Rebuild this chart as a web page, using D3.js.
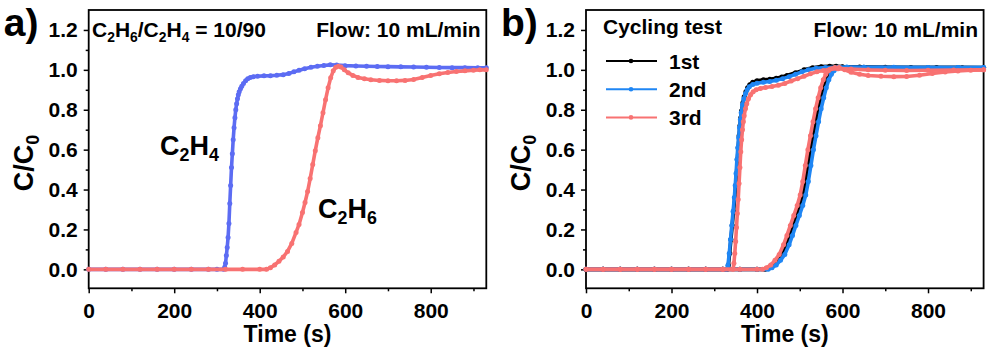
<!DOCTYPE html>
<html>
<head>
<meta charset="utf-8">
<script src="https://cdn.jsdelivr.net/npm/d3@7"></script>
<style>
  body { margin: 0; background: #fff; }
  text { font-family: "Liberation Sans", Arial, sans-serif; font-weight: bold; }
</style>
</head>
<body>
<div id="chart"></div>
<script>
// ---------------------------------------------------------------------------
// Data (time in s, C/C0)
// ---------------------------------------------------------------------------
const xTicks = [0, 200, 400, 600, 800]
const xMinor = [100, 300, 500, 700, 900]
const yTicks = [0, 0.2, 0.4, 0.6, 0.8, 1.0, 1.2]
const yMinor = [0.1, 0.3, 0.5, 0.7, 0.9, 1.1]

// panel a) breakthrough, C2H6/C2H4 = 10/90
const c2h4A = [[0,0],[40,0],[80,0],[120,0],[160,0],[200,0],[240,0],[280,0],[300,0],[316,0],
  [318,0.01],[320,0.03],[322,0.07],[324,0.11],[326,0.16],[328,0.23],[330,0.33],[332,0.42],[334,0.51],
  [336,0.58],[338,0.65],[340,0.71],[342,0.76],[344,0.80],[346,0.83],[348,0.855],[350,0.875],[352,0.89],
  [355,0.905],[358,0.918],[362,0.932],[367,0.945],[372,0.955],[378,0.962],[385,0.966],[395,0.968],
  [410,0.97],[425,0.971],[440,0.973],[455,0.976],[468,0.982],[480,0.99],[492,0.998],[505,1.006],
  [520,1.013],[535,1.018],[550,1.022],[565,1.025],[580,1.024],[600,1.021],[625,1.019],[650,1.018],
  [675,1.017],[700,1.016],[730,1.015],[760,1.014],[790,1.013],[820,1.012],[850,1.011],[880,1.011],
  [910,1.01],[930,1.01]]
const c2h6A = [[0,0],[40,0],[80,0],[120,0],[160,0],[200,0],[240,0],[280,0],[320,0],[360,0],[400,0],
  [416,0],[425,0.008],[435,0.022],[445,0.04],[455,0.062],[465,0.09],[475,0.13],[485,0.185],[492,0.225],
  [500,0.285],[506,0.335],[512,0.39],[518,0.455],[524,0.525],[530,0.595],[536,0.66],[542,0.72],
  [548,0.785],[554,0.85],[560,0.91],[566,0.96],[572,0.995],[578,1.013],[584,1.018],[590,1.014],
  [598,1.0],[607,0.985],[618,0.972],[630,0.962],[645,0.955],[660,0.95],[680,0.947],[700,0.945],
  [720,0.945],[740,0.947],[760,0.952],[780,0.962],[800,0.972],[820,0.98],[840,0.987],[860,0.992],
  [880,0.995],[900,0.998],[915,1.0],[930,1.0]]

// panel b) cycling test
const cyc1C2H4 = [[0,0],[40,0],[80,0],[120,0],[160,0],[200,0],[240,0],[280,0],[320,0],[330,0],
  [333,0.02],[336,0.08],[339,0.15],[342,0.22],[345,0.29],[348,0.36],[350,0.42],[352,0.48],[354,0.55],
  [356,0.61],[358,0.67],[360,0.72],[362,0.76],[364,0.795],[367,0.835],[370,0.865],[374,0.89],[378,0.91],
  [383,0.925],[390,0.938],[400,0.945],[415,0.95],[430,0.953],[445,0.958],[458,0.964],[470,0.972],
  [490,0.985],[510,1.0],[530,1.01],[550,1.016],[570,1.018],[585,1.018],[600,1.016],[640,1.014],
  [700,1.013],[760,1.012],[820,1.012],[880,1.011],[930,1.011]]
const cyc2C2H4 = [[0,0],[40,0],[80,0],[120,0],[160,0],[200,0],[240,0],[280,0],[320,0],[329,0],
  [332,0.02],[335,0.08],[338,0.15],[341,0.22],[344,0.29],[347,0.36],[349,0.42],[351,0.48],[353,0.55],
  [355,0.61],[357,0.66],[359,0.71],[361,0.75],[363,0.785],[366,0.825],[369,0.855],[373,0.88],[377,0.9],
  [382,0.915],[390,0.927],[400,0.933],[415,0.938],[430,0.942],[445,0.948],[460,0.956],[475,0.966],
  [490,0.978],[505,0.99],[520,1.0],[538,1.008],[560,1.012],[590,1.013],[650,1.012],[720,1.012],
  [800,1.012],[870,1.012],[930,1.012]]
const cyc3C2H4 = [[0,0],[40,0],[80,0],[120,0],[160,0],[200,0],[240,0],[280,0],[320,0],[344,0],
  [346,0.03],[348,0.08],[350,0.14],[352,0.21],[354,0.28],[356,0.35],[358,0.43],[360,0.51],[362,0.59],
  [364,0.65],[366,0.7],[368,0.74],[370,0.77],[373,0.805],[376,0.83],[380,0.855],[385,0.875],[391,0.89],
  [398,0.9],[408,0.907],[420,0.912],[435,0.917],[450,0.923],[465,0.932],[480,0.944],[495,0.956],
  [510,0.968],[525,0.98],[540,0.99],[555,0.997],[570,1.003],[590,1.006],[620,1.004],[660,1.0],
  [700,0.998],[750,0.997],[800,0.998],[860,0.999],[930,1.0]]
const cyc1C2H6 = [[0,0],[40,0],[80,0],[120,0],[160,0],[200,0],[240,0],[280,0],[320,0],[360,0],[400,0],
  [419,0],[428,0.008],[438,0.022],[448,0.045],[458,0.075],[468,0.123],[476,0.17],[484,0.22],[492,0.27],
  [500,0.32],[507,0.373],[513,0.44],[519,0.52],[525,0.6],[531,0.67],[537,0.74],[543,0.805],[549,0.86],
  [555,0.91],[561,0.95],[567,0.978],[573,0.995],[580,1.006],[588,1.012],[600,1.013],[650,1.013],
  [720,1.012],[800,1.011],[870,1.011],[930,1.01]]
const cyc2C2H6 = [[0,0],[40,0],[80,0],[120,0],[160,0],[200,0],[240,0],[280,0],[320,0],[360,0],[400,0],
  [426,0],[435,0.008],[445,0.022],[455,0.045],[465,0.075],[475,0.123],[483,0.17],[491,0.22],[499,0.27],
  [507,0.32],[514,0.373],[520,0.44],[526,0.52],[532,0.6],[538,0.67],[544,0.74],[550,0.805],[556,0.86],
  [562,0.91],[568,0.95],[574,0.978],[580,0.995],[587,1.006],[595,1.012],[610,1.014],[650,1.013],
  [720,1.013],[800,1.012],[870,1.012],[930,1.012]]
const cyc3C2H6 = [[0,0],[40,0],[80,0],[120,0],[160,0],[200,0],[240,0],[280,0],[320,0],[360,0],[400,0],
  [413,0],[422,0.008],[432,0.022],[442,0.045],[452,0.075],[462,0.123],[470,0.17],[478,0.22],[486,0.27],
  [494,0.32],[501,0.373],[507,0.44],[513,0.52],[519,0.6],[525,0.67],[531,0.74],[537,0.805],[543,0.86],
  [549,0.91],[555,0.95],[561,0.978],[567,0.995],[574,1.006],[582,1.012],[592,1.012],[605,1.0],
  [620,0.988],[640,0.978],[660,0.972],[690,0.968],[720,0.966],[750,0.967],[780,0.973],[810,0.982],
  [840,0.989],[870,0.994],[900,0.998],[930,1.0]]

const legendLabels = ["1st", "2nd", "3rd"]

// ---------------------------------------------------------------------------
// Helpers
// ---------------------------------------------------------------------------
const W = 996, H = 351
const svg = d3.select("#chart").append("svg").attr("width", W).attr("height", H)

// "C_2H_4" -> C, subscript 2, H, subscript 4
function chemText(sel, str, size) {
    sel.attr("font-size", size)
    let i = 0
    let shifted = false
    while (i < str.length) {
        if (str[i] === "_") {
            sel.append("tspan")
                .attr("font-size", size * 0.66)
                .attr("dy", shifted ? 0 : size * 0.22)
                .text(str[i + 1])
            shifted = true
            i += 2
        } else {
            let j = i
            while (j < str.length && str[j] !== "_") j++
            sel.append("tspan")
                .attr("font-size", size)
                .attr("dy", shifted ? -size * 0.22 : 0)
                .text(str.slice(i, j))
            shifted = false
            i = j
        }
    }
    return sel
}

function drawSeries(g, x, y, data, color) {
    let line = d3.line().x(d => x(d[0])).y(d => y(d[1]))
    g.append("path")
        .datum(data)
        .attr("d", line)
        .attr("fill", "none")
        .attr("stroke", color)
        .attr("stroke-width", 3.6)
        .attr("stroke-linejoin", "round")
    g.append("g")
        .selectAll("circle")
        .data(data)
        .enter()
        .append("circle")
            .attr("cx", d => x(d[0]))
            .attr("cy", d => y(d[1]))
            .attr("r", 2.5)
            .attr("fill", color)
}

function panel(left, label) {
    let x = d3.scaleLinear().domain([0, 930]).range([left, left + 397.6])
    let y = d3.scaleLinear().domain([-0.095, 1.3]).range([288.3, 10])
    let g = svg.append("g")

    // axes
    g.append("g").attr("transform", "translate(0,288.3)")
        .call(d3.axisBottom(x).tickValues(xTicks).tickSize(5).tickPadding(10).tickSizeOuter(0))
    g.append("g").attr("transform", "translate(0,288.3)")
        .call(d3.axisBottom(x).tickValues(xMinor).tickSize(3).tickFormat("").tickSizeOuter(0))
    g.append("g").attr("transform", "translate(" + left + ",0)")
        .call(d3.axisLeft(y).tickValues(yTicks).tickSize(5).tickPadding(6).tickFormat(d3.format(".1f")).tickSizeOuter(0))
    g.append("g").attr("transform", "translate(" + left + ",0)")
        .call(d3.axisLeft(y).tickValues(yMinor).tickSize(3).tickFormat("").tickSizeOuter(0))
    g.selectAll(".domain").remove()
    g.selectAll(".tick line").attr("stroke", "#000").attr("stroke-width", 1.5)
    g.selectAll(".tick text")
        .attr("font-size", 21)
        .attr("font-family", "Liberation Sans, Arial, sans-serif")
        .attr("font-weight", "bold")
        .attr("fill", "#000")

    // frame
    g.append("rect")
        .attr("x", x.range()[0]).attr("y", 10)
        .attr("width", x.range()[1] - x.range()[0]).attr("height", 278.3)
        .attr("fill", "none").attr("stroke", "#000").attr("stroke-width", 1.8)

    // titles
    g.append("text")
        .attr("x", (x.range()[0] + x.range()[1]) / 2).attr("y", 342)
        .attr("text-anchor", "middle").attr("font-size", 23)
        .text("Time (s)")
    chemText(g.append("text")
        .attr("transform", "translate(" + (left - 56) + ",163) rotate(-90)")
        .attr("text-anchor", "middle"), "C/C_0", 27)
    g.append("text")
        .attr("x", left - 85).attr("y", 36)
        .attr("font-size", 39)
        .text(label)

    g.append("text")
        .attr("x", left + 392).attr("y", 37)
        .attr("text-anchor", "end").attr("font-size", 21)
        .text("Flow: 10 mL/min")

    return { g: g, x: x, y: y }
}

// =================================================================================================
// Panel a
// =================================================================================================
let pa = panel(88.7, "a)")
drawSeries(pa.g, pa.x, pa.y, c2h4A, "#5c6cf3")
drawSeries(pa.g, pa.x, pa.y, c2h6A, "#f87272")
chemText(pa.g.append("text").attr("x", 92).attr("y", 37), "C_2H_6/C_2H_4 = 10/90", 21)
chemText(pa.g.append("text").attr("x", 160).attr("y", 155), "C_2H_4", 27)
chemText(pa.g.append("text").attr("x", 318).attr("y", 218), "C_2H_6", 27)

// =================================================================================================
// Panel b
// =================================================================================================
let pb = panel(586, "b)")
const cycColors = ["#000000", "#1f86f4", "#f87272"]
const cycSeries = [[cyc1C2H4, cyc1C2H6], [cyc2C2H4, cyc2C2H6], [cyc3C2H4, cyc3C2H6]]
cycSeries.forEach((pair, i) => {
    pair.forEach(s => drawSeries(pb.g, pb.x, pb.y, s, cycColors[i]))
})

pb.g.append("text").attr("x", 603).attr("y", 34).attr("font-size", 21).text("Cycling test")
let legend = pb.g.append("g")
legendLabels.forEach((name, i) => {
    let ly = 61 + i * 28.2
    legend.append("line")
        .attr("x1", 606).attr("x2", 657).attr("y1", ly).attr("y2", ly)
        .attr("stroke", cycColors[i]).attr("stroke-width", 2)
    legend.append("circle").attr("cx", 631).attr("cy", ly).attr("r", 2.3).attr("fill", cycColors[i])
    legend.append("text").attr("x", 669).attr("y", ly + 8).attr("font-size", 21).text(name)
})
</script>
</body>
</html>
